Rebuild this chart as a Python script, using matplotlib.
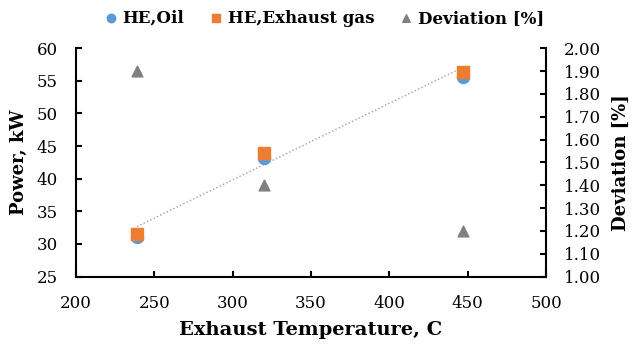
import matplotlib
matplotlib.use('Agg')
import matplotlib.pyplot as plt
import numpy as np

# data
temp = [239, 320, 447]
he_oil = [31.0, 43.1, 55.6]
he_gas = [31.6, 43.9, 56.4]
deviation = [1.90, 1.40, 1.20]

x_ticks = [200, 250, 300, 350, 400, 450, 500]
y_ticks = [25, 30, 35, 40, 45, 50, 55, 60]
dev_ticks = [1.0, 1.1, 1.2, 1.3, 1.4, 1.5, 1.6, 1.7, 1.8, 1.9, 2.0]

plt.rcParams['font.family'] = ['DejaVu Serif']

fig = plt.figure(figsize=(6.32, 3.55), dpi=100)
ax = fig.add_axes([0.12, 0.221, 0.744, 0.643])
ax2 = ax.twinx()

ax.scatter(temp, he_oil, s=75, marker='o', color='#5B9BD5', zorder=3, label='HE,Oil')
ax.scatter(temp, he_gas, s=65, marker='s', color='#ED7D31', zorder=4, label='HE,Exhaust gas')
ax2.scatter(temp, deviation, s=60, marker='^', color='#808080', zorder=3, label='Deviation [%]')

# linear trendline on exhaust gas series
k, b = np.polyfit(temp, he_gas, 1)
xt = np.array([min(temp), max(temp)])
ax.plot(xt, k * xt + b, ls=':', lw=1.0, color='#A0A0A0', zorder=2)

ax.set_xlim(200, 500)
ax.set_ylim(25, 60)
ax2.set_ylim(1.0, 2.0)
ax.set_xticks(x_ticks)
ax.set_yticks(y_ticks)
ax2.set_yticks(dev_ticks)
ax2.set_yticklabels([f'{v:.2f}' for v in dev_ticks])

for a in (ax, ax2):
    a.spines['top'].set_visible(False)
    for s in ('left', 'right', 'bottom'):
        a.spines[s].set_linewidth(1.5)
ax.spines['right'].set_visible(False)
ax2.spines['left'].set_visible(False)
ax2.spines['bottom'].set_visible(False)

ax.tick_params(axis='both', direction='in', length=4, width=1.5, labelsize=12, pad=13)
ax2.tick_params(axis='y', direction='in', length=4, width=1.5, labelsize=12, pad=13)

ax.set_xlabel('Exhaust Temperature, C', fontsize=14, fontweight='bold', labelpad=7)
ax.set_ylabel('Power, kW', fontsize=13, fontweight='bold', labelpad=6)
ax2.set_ylabel('Deviation [%]', fontsize=13, fontweight='bold', labelpad=8)

h1, l1 = ax.get_legend_handles_labels()
h2, l2 = ax2.get_legend_handles_labels()
fig.legend(h1 + h2, l1 + l2, loc='upper center', bbox_to_anchor=(0.505, 1.015), ncol=3,
           frameon=False, prop={'size': 12, 'weight': 'bold'}, handletextpad=-0.3,
           columnspacing=0.9, markerscale=0.7)

fig.savefig('out.png', dpi=100)
